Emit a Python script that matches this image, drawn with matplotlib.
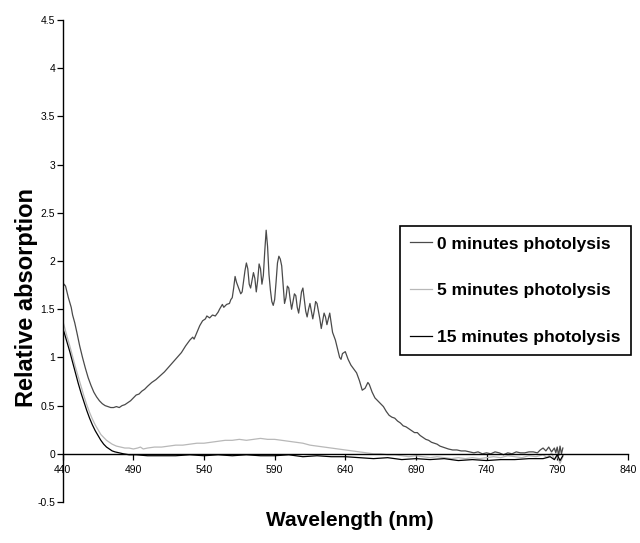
import matplotlib
matplotlib.use("Agg")
import matplotlib.pyplot as plt
from matplotlib.ticker import FuncFormatter

plt.rcParams['font.family'] = ['Liberation Sans', 'DejaVu Sans']
plt.rcParams['axes.unicode_minus'] = False

# ---- data (wavelength nm, relative absorption) ----
spec_0min = [(440,1.72),(441,1.76),(442,1.74),(443,1.68),(444,1.62),(445,1.57),(446,1.52),(447,1.44),(448.5,1.36),(450,1.26),(452,1.12),(454,1.00),(456,0.89),(458,0.79),(460,0.71),(462,0.64),(464,0.59),(466,0.55),(468,0.52),(470,0.50),(472,0.49),(474,0.48),(476,0.48),(478,0.49),(480,0.48),(482,0.50),(484,0.51),(486,0.53),(488,0.55),(490,0.58),(492,0.61),(494,0.62),(496,0.65),(498,0.67),(500,0.70),(503,0.74),(506,0.77),(509,0.81),(512,0.85),(515,0.90),(518,0.95),(521,1.00),(524,1.05),(527,1.12),(530,1.18),(532,1.21),(533,1.19),(535,1.26),(537,1.33),(539,1.38),(541,1.40),(542,1.43),(544,1.41),(546,1.44),(548,1.43),(550,1.47),(551,1.50),(553,1.55),(554,1.52),(556,1.55),(558,1.56),(559,1.60),(560,1.62),(561,1.72),(562,1.84),(563,1.78),(564,1.74),(565,1.70),(566,1.66),(567,1.68),(568,1.79),(569,1.90),(570,1.98),(571,1.92),(572,1.76),(573,1.72),(574,1.80),(575,1.88),(576,1.82),(577,1.68),(578,1.80),(579,1.97),(580,1.92),(581,1.76),(582,1.85),(583,2.10),(584,2.32),(585,2.15),(586,1.86),(587,1.70),(588,1.58),(589,1.54),(590,1.60),(591,1.78),(592,1.98),(593,2.05),(594,2.02),(595,1.95),(596,1.76),(597,1.56),(598,1.62),(599,1.74),(600,1.72),(601,1.60),(602,1.50),(603,1.58),(604,1.66),(605,1.64),(606,1.52),(607,1.46),(608,1.56),(609,1.68),(610,1.72),(611,1.60),(612,1.48),(613,1.42),(614,1.50),(615,1.56),(616,1.48),(617,1.40),(618,1.48),(619,1.58),(620,1.56),(621,1.48),(622,1.40),(623,1.30),(624,1.38),(625,1.46),(626,1.42),(627,1.34),(628,1.40),(629,1.46),(630,1.36),(631,1.26),(632,1.22),(633,1.18),(634,1.12),(635,1.06),(636,1.00),(637,0.98),(638,1.04),(640,1.06),(642,0.98),(644,0.92),(646,0.88),(648,0.84),(650,0.76),(652,0.66),(654,0.68),(656,0.74),(657,0.72),(659,0.64),(661,0.58),(663,0.55),(665,0.52),(667,0.49),(669,0.44),(671,0.40),(673,0.38),(675,0.37),(677,0.34),(679,0.32),(681,0.29),(683,0.28),(685,0.26),(687,0.24),(689,0.22),(691,0.22),(693,0.19),(695,0.17),(697,0.15),(699,0.14),(701,0.12),(703,0.11),(705,0.10),(707,0.08),(709,0.07),(711,0.06),(713,0.05),(716,0.04),(719,0.04),(722,0.03),(725,0.03),(728,0.02),(731,0.01),(734,0.02),(737,0.00),(740,0.01),(743,0.00),(746,0.02),(749,0.01),(752,-0.01),(755,0.01),(758,0.00),(761,0.02),(764,0.01),(767,0.01),(770,0.02),(773,0.02),(776,0.01),(778,0.04),(780,0.06),(782,0.03),(784,0.07),(786,0.02),(788,0.06),(789,0.01),(790,0.07),(791,-0.02),(792,0.08),(793,0.00),(794,0.06)]

spec_5min = [(440,1.38),(441,1.33),(443,1.22),(445,1.12),(447,1.01),(449,0.90),(451,0.80),(453,0.70),(455,0.60),(457,0.51),(459,0.43),(461,0.36),(463,0.30),(465,0.25),(467,0.20),(469,0.17),(471,0.14),(473,0.12),(475,0.10),(478,0.08),(481,0.07),(484,0.06),(487,0.06),(490,0.05),(493,0.06),(495,0.07),(497,0.05),(500,0.06),(505,0.07),(510,0.07),(515,0.08),(520,0.09),(525,0.09),(530,0.10),(535,0.11),(540,0.11),(545,0.12),(550,0.13),(555,0.14),(560,0.14),(565,0.15),(570,0.14),(575,0.15),(580,0.16),(585,0.15),(590,0.15),(595,0.14),(600,0.13),(605,0.12),(610,0.11),(615,0.09),(620,0.08),(625,0.07),(630,0.06),(635,0.05),(640,0.04),(645,0.03),(650,0.02),(655,0.01),(660,0.00),(665,0.00),(670,-0.01),(675,-0.01),(680,-0.02),(685,-0.03),(690,-0.02),(695,-0.03),(700,-0.04),(705,-0.03),(710,-0.04),(715,-0.05),(720,-0.04),(725,-0.05),(730,-0.04),(735,-0.05),(740,-0.04),(745,-0.03),(750,-0.04),(755,-0.02),(760,-0.03),(765,-0.04),(770,-0.02),(775,-0.03),(780,-0.01),(783,-0.04),(786,0.01),(788,-0.06),(790,-0.02),(792,-0.10),(794,-0.03)]

spec_15min = [(440,1.30),(441,1.26),(443,1.16),(445,1.06),(447,0.95),(449,0.84),(451,0.73),(453,0.63),(455,0.54),(457,0.45),(459,0.37),(461,0.30),(463,0.24),(465,0.19),(467,0.14),(469,0.10),(471,0.07),(473,0.05),(475,0.03),(477,0.02),(480,0.01),(483,0.00),(487,-0.01),(492,-0.01),(500,-0.02),(510,-0.02),(520,-0.02),(530,-0.01),(540,-0.02),(550,-0.01),(560,-0.02),(570,-0.01),(580,-0.02),(590,-0.02),(600,-0.01),(610,-0.03),(620,-0.02),(630,-0.03),(640,-0.03),(650,-0.04),(660,-0.05),(670,-0.04),(680,-0.06),(690,-0.05),(700,-0.06),(710,-0.05),(720,-0.07),(730,-0.06),(740,-0.07),(750,-0.06),(760,-0.06),(770,-0.05),(780,-0.05),(785,-0.03),(788,-0.06),(790,-0.01),(792,-0.07),(794,-0.02)]

series_labels = ["0 minutes photolysis", "5 minutes photolysis", "15 minutes photolysis"]
x_ticks = [440, 490, 540, 590, 640, 690, 740, 790, 840]
y_ticks = [-0.5, 0, 0.5, 1, 1.5, 2, 2.5, 3, 3.5, 4, 4.5]

# ---- plot ----
fig = plt.figure(figsize=(6.4, 5.43), dpi=100)
ax = fig.add_axes([0.098, 0.0755, 0.883, 0.8875])

colors = ['#4a4a4a', '#b8b8b8', '#000000']
for spec, lab, c in zip([spec_0min, spec_5min, spec_15min], series_labels, colors):
    xs = [p[0] for p in spec]
    ys = [p[1] for p in spec]
    ax.plot(xs, ys, color=c, lw=0.9, label=lab)

ax.set_xlim(440, 840)
ax.set_ylim(-0.5, 4.5)
ax.set_xticks(x_ticks)
ax.set_yticks(y_ticks)
ax.yaxis.set_major_formatter(FuncFormatter(lambda v, p: '%g' % v))

ax.spines['top'].set_visible(False)
ax.spines['right'].set_visible(False)
ax.spines['bottom'].set_position(('data', 0))
ax.spines['left'].set_linewidth(1.0)
ax.spines['bottom'].set_linewidth(1.0)
ax.tick_params(axis='y', direction='out', length=4, width=0.9, labelsize=7.5, pad=1.5)
ax.tick_params(axis='x', direction='out', length=4, width=0.9, labelsize=7.5, pad=4)

fig.text(0.041, 0.452, 'Relative absorption', rotation=90, fontsize=17,
         fontweight='bold', ha='center', va='center')
fig.text(0.547, 0.042, 'Wavelength (nm)', fontsize=15, fontweight='bold',
         ha='center', va='center')

leg = ax.legend(loc='center', bbox_to_anchor=(0.805, 0.465), bbox_transform=fig.transFigure,
                frameon=True, fancybox=False, edgecolor='black', framealpha=1,
                prop={'weight': 'bold', 'size': 12.5}, labelspacing=1.81,
                handlelength=1.25, handletextpad=0.3, borderpad=0.6, borderaxespad=0)
leg.get_frame().set_linewidth(1.2)

fig.savefig('out.png', dpi=100)
